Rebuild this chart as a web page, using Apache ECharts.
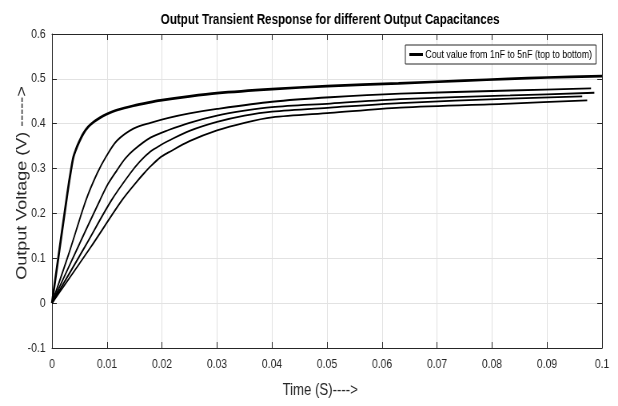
<!DOCTYPE html>
<html>
<head>
<meta charset="utf-8">
<script src="https://cdn.jsdelivr.net/npm/echarts@6/dist/echarts.min.js"></script>
<style>
  html, body { margin: 0; padding: 0; background: #fff; overflow: hidden; }
  /* the figure is laid out wide and then narrowed horizontally */
  #chart { width: 773px; height: 406px; transform: scaleX(0.7995); transform-origin: 0 0; }
</style>
</head>
<body>
<div id="chart"></div>
<script>
// Output voltage (V) versus time (s) for load capacitances of 1nF .. 5nF
const t1nF = [0, 0.0028, 0.0035, 0.0039, 0.0044, 0.0048, 0.0057, 0.0066, 0.0076, 0.0088, 0.0099, 0.0120, 0.0148, 0.0175, 0.0197, 0.0250, 0.030, 0.040, 0.050, 0.063, 0.075, 0.083, 0.090, 0.100];
const v1nF = [0, 0.245, 0.300, 0.326, 0.344, 0.356, 0.378, 0.393, 0.404, 0.414, 0.421, 0.431, 0.440, 0.447, 0.452, 0.461, 0.468, 0.477, 0.484, 0.490, 0.496, 0.500, 0.503, 0.506];

const t2nF = [0, 0.003, 0.0062, 0.0082, 0.0099, 0.0118, 0.0148, 0.0179, 0.0212, 0.025, 0.030, 0.040, 0.0506, 0.0633, 0.0833, 0.098];
const v2nF = [0, 0.108, 0.230, 0.289, 0.328, 0.362, 0.389, 0.402, 0.413, 0.423, 0.433, 0.449, 0.459, 0.467, 0.474, 0.479];

const t3nF = [0, 0.0045, 0.0087, 0.0102, 0.0118, 0.0133, 0.0148, 0.0179, 0.0212, 0.025, 0.030, 0.035, 0.040, 0.0506, 0.0633, 0.0833, 0.0986];
const v3nF = [0, 0.119, 0.229, 0.266, 0.296, 0.322, 0.341, 0.369, 0.386, 0.402, 0.418, 0.429, 0.437, 0.445, 0.455, 0.463, 0.469];

const t4nF = [0, 0.006, 0.0108, 0.0142, 0.016, 0.0179, 0.0197, 0.0212, 0.025, 0.030, 0.035, 0.040, 0.0506, 0.0633, 0.0833, 0.0964];
const v4nF = [0, 0.126, 0.229, 0.289, 0.316, 0.338, 0.352, 0.362, 0.384, 0.404, 0.418, 0.427, 0.436, 0.446, 0.456, 0.461];

const t5nF = [0, 0.007, 0.0127, 0.0155, 0.0167, 0.018, 0.0197, 0.0212, 0.025, 0.030, 0.035, 0.040, 0.0506, 0.0633, 0.0833, 0.0973];
const v5nF = [0, 0.124, 0.229, 0.272, 0.289, 0.306, 0.325, 0.336, 0.361, 0.385, 0.402, 0.414, 0.424, 0.436, 0.445, 0.452];

const legendText = 'Cout value from 1nF to 5nF (top to bottom)';
const curves = [
  { name: legendText, t: t1nF, v: v1nF, width: 2.7 },
  { name: '2nF', t: t2nF, v: v2nF, width: 1.8 },
  { name: '3nF', t: t3nF, v: v3nF, width: 1.8 },
  { name: '4nF', t: t4nF, v: v4nF, width: 1.8 },
  { name: '5nF', t: t5nF, v: v5nF, width: 1.8 }
];

const SANS = "'Liberation Sans', Arial, Helvetica, sans-serif";
const INK = '#262626';
const GRID = '#e2e2e2';

const zip = (t, v) => t.map((x, i) => [x, v[i]]);

const frameAxis = (pos, extra) => Object.assign({
  type: 'value',
  position: pos,
  axisLine: { show: true, onZero: false, lineStyle: { color: INK, width: 1 } },
  axisTick: { show: true, inside: true, length: 6, lineStyle: { color: INK } },
  axisLabel: { show: false },
  splitLine: { show: false }
}, extra);

const chart = echarts.init(document.getElementById('chart'), null, { renderer: 'canvas' });
chart.setOption({
  animation: false,
  backgroundColor: '#fff',
  title: {
    text: 'Output Transient Response for different Output Capacitances',
    left: 408, top: 7, textAlign: 'center',
    textStyle: { fontFamily: SANS, fontSize: 14.5, fontWeight: 'bold', color: '#000' }
  },
  grid: { left: 65, right: 20, top: 34, bottom: 58, containLabel: false, outerBoundsMode: 'none' },
  legend: {
    data: [legendText],
    left: 507, top: 45,
    icon: 'rect', itemWidth: 17, itemHeight: 3, itemGap: 4,
    padding: [4, 5, 4, 5],
    borderColor: INK, borderWidth: 1, backgroundColor: '#fff',
    textStyle: { fontFamily: SANS, fontSize: 11, color: '#000', padding: [0, 0, 0, -2] }
  },
  xAxis: [
    frameAxis('bottom', {
      min: 0, max: 0.1, interval: 0.01,
      name: 'Time (S)---->', nameLocation: 'middle', nameGap: 34, nameMoveOverlap: false,
      nameTextStyle: { fontFamily: SANS, fontSize: 16.5, color: INK, padding: [0, 17, 0, 0] },
      axisLabel: { show: true, color: INK, fontFamily: SANS, fontSize: 13, margin: 10 },
      splitLine: { show: true, lineStyle: { color: GRID, width: 1 } }
    }),
    frameAxis('top', { min: 0, max: 0.1, interval: 0.01 })
  ],
  yAxis: [
    frameAxis('left', {
      min: -0.1, max: 0.6, interval: 0.1,
      name: 'Output Voltage (V) ----->', nameLocation: 'middle', nameGap: 28, nameMoveOverlap: false,
      nameTextStyle: { fontFamily: SANS, fontSize: 18, color: INK, padding: [0, 0, 0, 16] },
      axisLabel: { show: true, color: INK, fontFamily: SANS, fontSize: 13, margin: 8 },
      splitLine: { show: true, lineStyle: { color: GRID, width: 1 } }
    }),
    frameAxis('right', { min: -0.1, max: 0.6, interval: 0.1 })
  ],
  series: curves.map(c => ({
    name: c.name,
    type: 'line',
    xAxisIndex: 0, yAxisIndex: 0,
    data: zip(c.t, c.v),
    showSymbol: false,
    smooth: 0.3,
    lineStyle: { color: '#000', width: c.width },
    itemStyle: { color: '#000' },
    emphasis: { disabled: true }
  }))
});
</script>
</body>
</html>
